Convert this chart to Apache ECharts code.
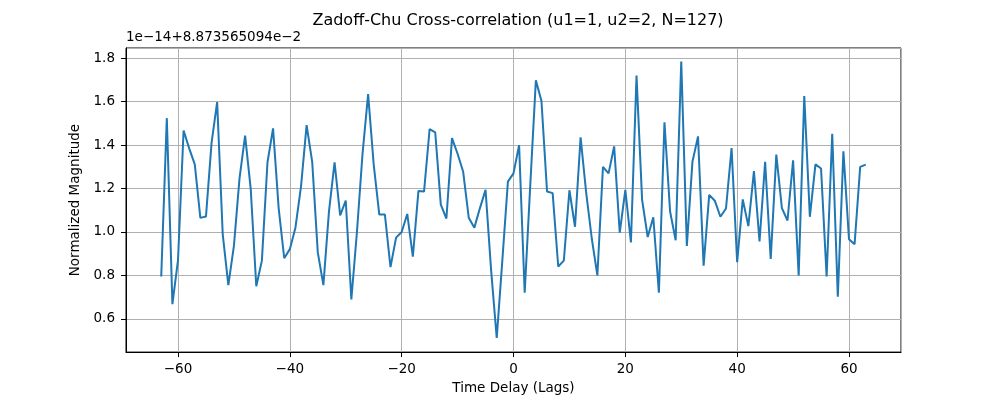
<!DOCTYPE html>
<html>
<head>
<meta charset="utf-8">
<script src="https://cdn.jsdelivr.net/npm/echarts@6/dist/echarts.min.js"></script>
<style>
  html, body { margin: 0; padding: 0; background: #fff; }
  #chart { width: 1000px; height: 400px; }
</style>
</head>
<body>
<div id="chart"></div>
<script>
// lag axis (x)
const lags = [-63,-62,-61,-60,-59,-58,-57,-56,-55,-54,-53,-52,-51,-50,-49,-48,-47,-46,-45,-44,
  -43,-42,-41,-40,-39,-38,-37,-36,-35,-34,-33,-32,-31,-30,-29,-28,-27,-26,-25,-24,
  -23,-22,-21,-20,-19,-18,-17,-16,-15,-14,-13,-12,-11,-10,-9,-8,-7,-6,-5,-4,
  -3,-2,-1,0,1,2,3,4,5,6,7,8,9,10,11,12,13,14,15,16,
  17,18,19,20,21,22,23,24,25,26,27,28,29,30,31,32,33,34,35,36,
  37,38,39,40,41,42,43,44,45,46,47,48,49,50,51,52,53,54,55,56,
  57,58,59,60,61,62,63];

// normalized magnitude, shown as (value - 8.873565094e-2) / 1e-14
const magnitude = [0.795,1.524,0.668,0.871,1.467,1.385,1.311,1.065,1.071,1.41,1.598,0.989,0.755,0.936,1.247,1.444,1.20,0.750,0.868,1.32,
  1.477,1.11,0.879,0.921,1.02,1.21,1.492,1.323,0.906,0.755,1.095,1.32,1.076,1.145,0.689,1.0,1.36,1.635,1.31,1.08,
  1.08,0.838,0.974,1.0,1.083,0.886,1.189,1.186,1.474,1.459,1.126,1.062,1.432,1.36,1.277,1.065,1.02,1.11,1.194,0.823,
  0.512,0.868,1.232,1.27,1.40,0.72,1.217,1.698,1.603,1.186,1.179,0.841,0.868,1.192,1.024,1.436,1.18,0.97,0.80,1.30,
  1.27,1.394,0.997,1.194,0.952,1.72,1.148,0.977,1.068,0.72,1.505,1.095,0.962,1.785,0.936,1.323,1.44,0.845,1.171,1.144,
  1.07,1.108,1.386,0.861,1.15,1.027,1.28,0.956,1.323,0.876,1.356,1.11,1.053,1.33,0.80,1.626,1.07,1.311,1.292,0.795,
  1.452,0.702,1.371,0.967,0.944,1.30,1.31];

const xTicks = [-60, -40, -20, 0, 20, 40, 60];
const yTicks = [0.6, 0.8, 1.0, 1.2, 1.4, 1.6, 1.8];

const titleText = 'Zadoff-Chu Cross-correlation (u1=1, u2=2, N=127)';
const offsetText = '1e\u221214+8.873565094e\u22122';

const FONT = 'DejaVu Sans';
const chart = echarts.init(document.getElementById('chart'), null, { renderer: 'canvas' });

const points = lags.map((l, i) => [l, magnitude[i]]);
const fmtMinus = v => String(v).replace('-', '\u2212');

chart.setOption({
  animation: false,
  backgroundColor: '#fff',
  title: {
    text: titleText,
    left: 513, top: 8, textAlign: 'center',
    textStyle: { fontFamily: FONT, fontSize: 16, fontWeight: 'normal', color: '#000' }
  },
  graphic: [{
    type: 'text', left: 126, top: 30,
    style: { text: offsetText, font: '13.5px "DejaVu Sans"', fill: '#000' }
  }],
  grid: {
    left: 126, right: 99, top: 48, bottom: 44,
    show: true, borderColor: '#000', borderWidth: 1, backgroundColor: 'transparent'
  },
  xAxis: {
    type: 'value', min: -69.3, max: 69.3,
    splitNumber: 7, minInterval: 20, maxInterval: 20,
    name: 'Time Delay (Lags)', nameLocation: 'middle', nameGap: 28,
    nameTextStyle: { fontFamily: FONT, fontSize: 13.5, color: '#000' },
    axisLine: { onZero: false, lineStyle: { color: '#000', width: 1 } },
    axisTick: { show: true, length: 5, lineStyle: { color: '#000' } },
    axisLabel: {
      fontFamily: FONT, fontSize: 13.5, color: '#000', margin: 10,
      showMinLabel: false, showMaxLabel: false,
      formatter: v => xTicks.includes(Math.round(v)) && Math.abs(v - Math.round(v)) < 1e-6 ? fmtMinus(v) : ''
    },
    splitLine: { show: true, lineStyle: { color: '#b0b0b0', width: 1 } }
  },
  yAxis: {
    type: 'value', min: 0.447, max: 1.847,
    splitNumber: 7, minInterval: 0.2, maxInterval: 0.2,
    name: 'Normalized Magnitude', nameLocation: 'middle', nameGap: 35, nameRotate: 90,
    nameTextStyle: { fontFamily: FONT, fontSize: 13.5, color: '#000' },
    axisLine: { show: true, onZero: false, lineStyle: { color: '#000', width: 1 } },
    axisTick: { show: true, length: 5, lineStyle: { color: '#000' } },
    axisLabel: {
      fontFamily: FONT, fontSize: 13.5, color: '#000', margin: 11,
      showMinLabel: false, showMaxLabel: false,
      formatter: v => yTicks.some(t => Math.abs(t - v) < 1e-6) ? v.toFixed(1) : ''
    },
    splitLine: { show: true, lineStyle: { color: '#b0b0b0', width: 1 } }
  },
  series: [{
    type: 'line',
    data: points,
    showSymbol: false,
    lineStyle: { color: '#1f77b4', width: 2 },
    itemStyle: { color: '#1f77b4' }
  }]
});
</script>
</body>
</html>
